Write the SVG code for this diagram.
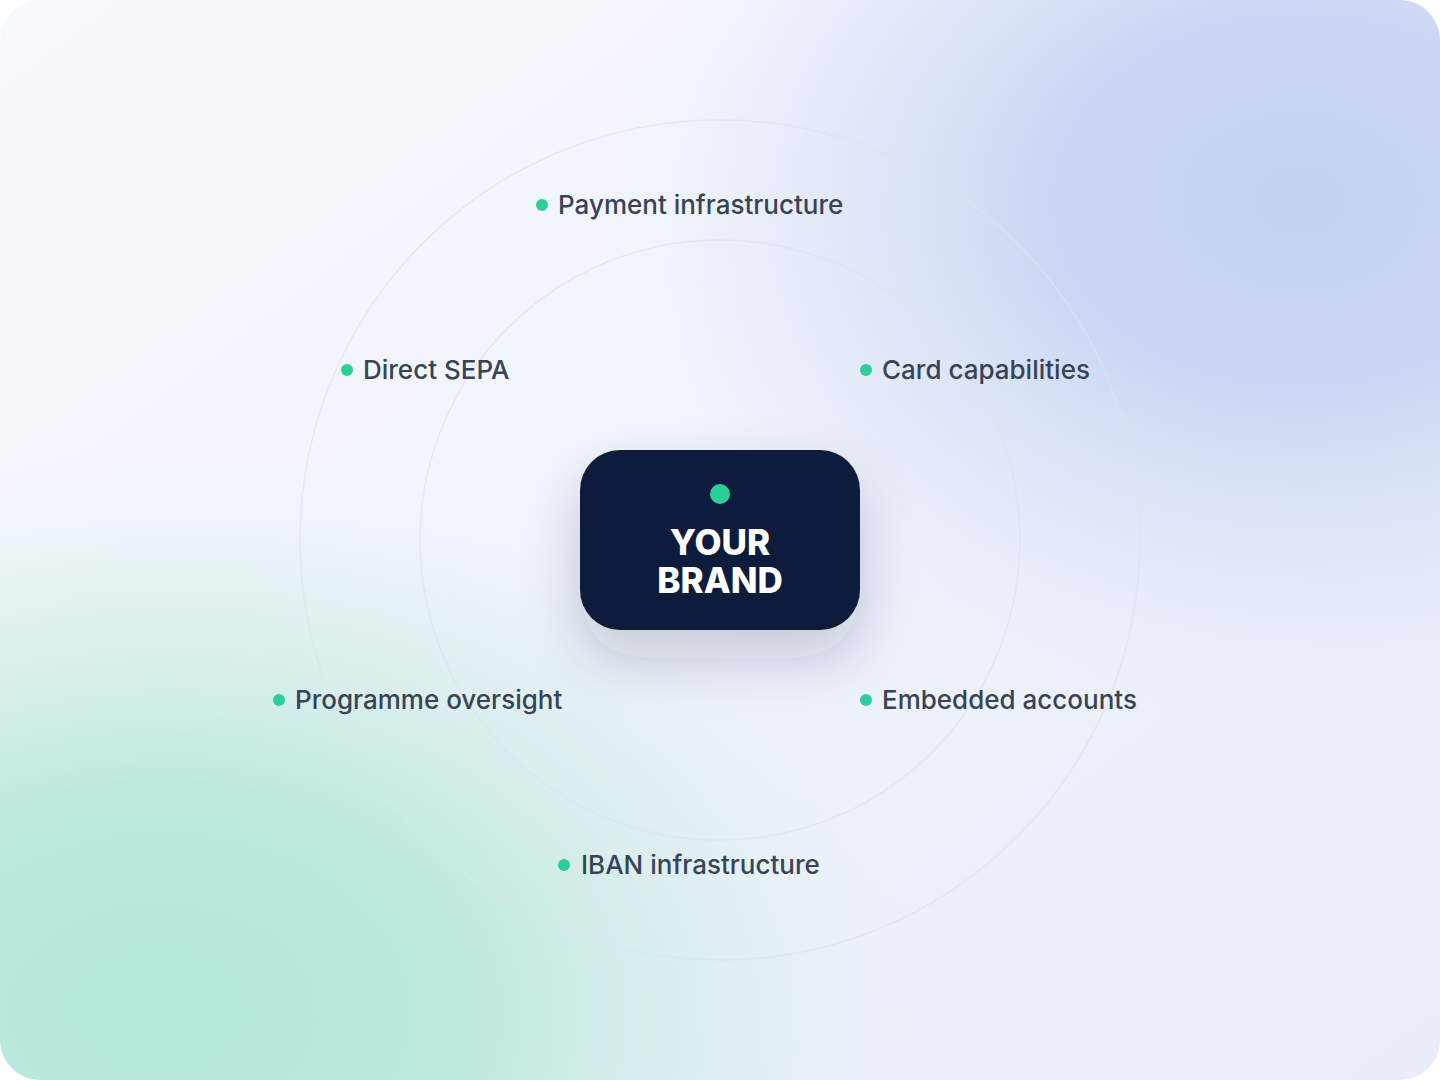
<svg xmlns="http://www.w3.org/2000/svg" width="1440" height="1080" viewBox="0 0 1440 1080">
<defs>
<clipPath id="card"><rect x="0" y="0" width="1440" height="1080" rx="40" ry="40"/></clipPath>
<linearGradient id="base" x1="0" y1="0" x2="1" y2="1">
<stop offset="0" stop-color="#f6f9fd"/>
<stop offset="0.5" stop-color="#eff3fb"/>
<stop offset="1" stop-color="#e8edf8"/>
</linearGradient>
<radialGradient id="blue" cx="1300" cy="200" r="700" gradientUnits="userSpaceOnUse" gradientTransform="translate(1300 200) scale(1 0.75) translate(-1300 -200)">
<stop offset="0" stop-color="#c4d1f1" stop-opacity="1"/>
<stop offset="0.35" stop-color="#c8d4f2" stop-opacity="0.95"/>
<stop offset="0.7" stop-color="#d6def5" stop-opacity="0.45"/>
<stop offset="1" stop-color="#e8edf8" stop-opacity="0"/>
</radialGradient>
<radialGradient id="mint" cx="160" cy="1010" r="780" gradientUnits="userSpaceOnUse" gradientTransform="translate(160 1010) scale(1 0.72) translate(-160 -1010)">
<stop offset="0" stop-color="#b5e7dc" stop-opacity="1"/>
<stop offset="0.4" stop-color="#bae8df" stop-opacity="0.95"/>
<stop offset="0.75" stop-color="#d3ede9" stop-opacity="0.45"/>
<stop offset="1" stop-color="#eef3fa" stop-opacity="0"/>
</radialGradient>
<filter id="shadow" x="-50%" y="-50%" width="200%" height="220%">
<feDropShadow dx="0" dy="28" stdDeviation="28" flood-color="#1a2540" flood-opacity="0.2"/>
</filter>
<style>
.ring{fill:none;stroke:#dfe3ec;stroke-opacity:0.7;stroke-width:1.5}
.dot{fill:#2dcf98}
.lbl{font-family:Inter,"Liberation Sans",sans-serif;font-size:26px;fill:#384356;font-weight:500}
.brand{font-family:Inter,"Liberation Sans",sans-serif;font-size:35px;font-weight:800;fill:#ffffff;text-anchor:middle}
</style>
</defs>
<g clip-path="url(#card)">
<rect x="0" y="0" width="1440" height="1080" fill="url(#base)"/>
<rect x="0" y="0" width="1440" height="1080" fill="url(#blue)"/>
<rect x="0" y="0" width="1440" height="1080" fill="url(#mint)"/>
</g>
<g id="rings">
<circle class="ring" cx="720" cy="540" r="420"/>
<circle class="ring" cx="720" cy="540" r="300"/>
</g>
<g id="connectors"></g>
<g id="brand">
<rect x="580" y="450" width="280" height="180" rx="40" ry="40" fill="#111e3e" filter="url(#shadow)"/>
<circle class="dot" cx="720" cy="494" r="10"/>
<text class="brand" x="720" y="555">YOUR</text>
<text class="brand" x="720" y="593">BRAND</text>
</g>
<g id="payment"><circle class="dot" cx="542" cy="205" r="6"/><text class="lbl" x="558" y="214">Payment infrastructure</text></g>
<g id="sepa"><circle class="dot" cx="347" cy="370" r="6"/><text class="lbl" x="363" y="379">Direct SEPA</text></g>
<g id="card-cap"><circle class="dot" cx="866" cy="370" r="6"/><text class="lbl" x="882" y="379">Card capabilities</text></g>
<g id="oversight"><circle class="dot" cx="279" cy="700" r="6"/><text class="lbl" x="295" y="709">Programme oversight</text></g>
<g id="embedded"><circle class="dot" cx="866" cy="700" r="6"/><text class="lbl" x="882" y="709">Embedded accounts</text></g>
<g id="iban"><circle class="dot" cx="564" cy="865" r="6"/><text class="lbl" x="581" y="874">IBAN infrastructure</text></g>
</svg>
